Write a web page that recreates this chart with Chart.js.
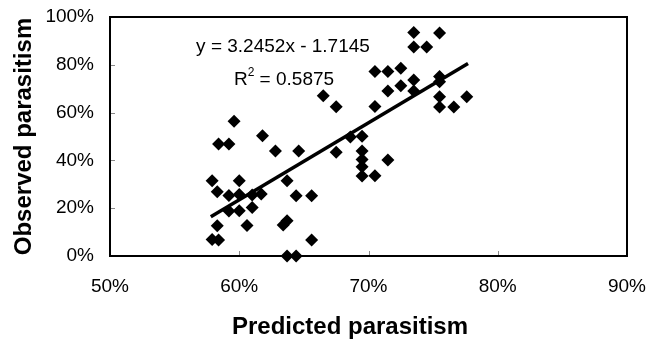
<!DOCTYPE html>
<html>
<head>
<meta charset="utf-8">
<script src="https://cdn.jsdelivr.net/npm/chart.js@4/dist/chart.umd.min.js"></script>
<style>
  html, body { margin: 0; padding: 0; background: #fff; }
  #wrap { width: 647px; height: 342px; position: relative; }
</style>
</head>
<body>
<div id="wrap"><canvas id="chart"></canvas></div>
<script>
// predicted vs observed parasitism (%)
const predicted = [73.5, 75.5, 73.5, 74.5, 70.5, 71.5, 72.5, 71.5, 72.5, 73.5,
  73.5, 75.5, 75.5, 75.5, 75.5, 76.6, 77.6, 70.5, 66.5, 67.5,
  59.6, 58.4, 59.2, 61.8, 62.8, 64.6, 67.5, 68.6, 69.5, 69.5,
  69.5, 69.5, 69.5, 70.5, 71.5, 57.9, 60.0, 63.7, 58.3, 59.2,
  60.0, 61.0, 61.7, 64.4, 65.6, 59.2, 60.0, 61.0, 58.3, 60.6,
  63.7, 63.4, 57.9, 58.4, 65.6, 63.7, 64.4];
const observed = [93.5, 93.3, 87.5, 87.5, 77.2, 77.2, 78.6, 69.0, 71.2, 73.6,
  69.0, 75.1, 72.9, 66.6, 62.3, 62.3, 66.6, 62.6, 67.0, 62.5,
  56.4, 46.9, 46.9, 50.3, 43.9, 43.9, 43.4, 49.8, 50.1, 43.9,
  40.4, 37.3, 33.5, 33.6, 40.2, 31.5, 31.5, 31.5, 26.9, 25.3,
  25.7, 25.5, 25.9, 25.2, 25.2, 18.8, 18.9, 20.3, 12.7, 12.8,
  14.8, 13.0, 6.9, 6.7, 6.7, 0, 0];

// linear trend line ends, as drawn
const trendX = [57.8, 77.7];
const trendY = [16.4, 80.5];

const xTicks = [50, 60, 70, 80, 90];
const yTicks = [0, 20, 40, 60, 80, 100];

const eqText = "y = 3.2452x - 1.7145";
const r2Value = "0.5875";
const xTitle = "Predicted parasitism";
const yTitle = "Observed parasitism";

const FONT = '"Liberation Sans", Arial, Helvetica, sans-serif';

const points = predicted.map((x, i) => ({ x, y: observed[i] }));
const trend = trendX.map((x, i) => ({ x, y: trendY[i] }));

const frame = {
  id: "frame",
  beforeDatasetsDraw(chart) {
    const { ctx, chartArea: a, scales } = chart;
    ctx.save();
    // small inward tick marks
    ctx.strokeStyle = "#888";
    ctx.lineWidth = 1;
    ctx.beginPath();
    xTicks.slice(1, -1).forEach(v => {
      const px = Math.round(scales.x.getPixelForValue(v)) + 0.5;
      ctx.moveTo(px, a.bottom); ctx.lineTo(px, a.bottom - 5);
    });
    yTicks.slice(1, -1).forEach(v => {
      const py = Math.round(scales.y.getPixelForValue(v)) + 0.5;
      ctx.moveTo(a.left, py); ctx.lineTo(a.left + 5, py);
    });
    ctx.stroke();
    ctx.strokeStyle = "#000";
    ctx.lineWidth = 2;
    ctx.strokeRect(a.left, a.top, a.right - a.left, a.bottom - a.top);
    ctx.restore();
  },
  afterDraw(chart) {
    const { ctx, chartArea: a } = chart;
    ctx.save();
    ctx.fillStyle = "#000";
    ctx.textBaseline = "middle";

    // equation + R²
    ctx.font = `19px ${FONT}`;
    ctx.textAlign = "center";
    ctx.fillText(eqText, 283, 47);
    const rest = " = " + r2Value;
    const wR = ctx.measureText("R").width;
    const wRest = ctx.measureText(rest).width;
    ctx.font = `12px ${FONT}`;
    const w2 = ctx.measureText("2").width;
    let sx = 284 - (wR + w2 + wRest) / 2;
    ctx.textAlign = "left";
    ctx.font = `19px ${FONT}`;
    ctx.fillText("R", sx, 80);
    ctx.font = `12px ${FONT}`;
    ctx.fillText("2", sx + wR, 73);
    ctx.font = `19px ${FONT}`;
    ctx.fillText(rest, sx + wR + w2, 80);

    // axis titles
    ctx.font = `bold 24px ${FONT}`;
    ctx.textAlign = "center";
    ctx.fillText(xTitle, 350, 327);
    ctx.translate(24, (a.top + a.bottom) / 2);
    ctx.rotate(-Math.PI / 2);
    ctx.fillText(yTitle, 0, 0);
    ctx.restore();
  }
};

new Chart(document.getElementById("chart"), {
  type: "scatter",
  data: {
    datasets: [
      {
        label: "trend",
        type: "line",
        data: trend,
        borderColor: "#000",
        borderWidth: 3.5,
        pointRadius: 0,
        fill: false,
        order: 2
      },
      {
        label: "sites",
        data: points,
        pointStyle: "rectRot",
        pointRadius: 6.5,
        pointHoverRadius: 6.5,
        backgroundColor: "#000",
        borderColor: "#000",
        borderWidth: 0,
        clip: false,
        order: 1
      }
    ]
  },
  options: {
    responsive: true,
    maintainAspectRatio: false,
    animation: false,
    events: [],
    layout: { padding: { top: 17, right: 20, left: 0, bottom: 0 } },
    plugins: { legend: { display: false }, tooltip: { enabled: false } },
    scales: {
      x: {
        type: "linear",
        min: 50, max: 90,
        afterBuildTicks: s => { s.ticks = xTicks.map(v => ({ value: v })); },
        afterFit: s => { s.height = 86; s.paddingLeft = 0; s.paddingRight = 0; },
        grid: { display: false, drawTicks: false },
        border: { display: false },
        ticks: {
          padding: 19,
          color: "#000",
          font: { family: FONT, size: 19 },
          callback: v => v + "%"
        }
      },
      y: {
        type: "linear",
        min: 0, max: 100,
        afterBuildTicks: s => { s.ticks = yTicks.map(v => ({ value: v })); },
        afterFit: s => { s.width = 110; s.paddingTop = 0; s.paddingBottom = 0; },
        grid: { display: false, drawTicks: false },
        border: { display: false },
        ticks: {
          padding: 16,
          color: "#000",
          font: { family: FONT, size: 19 },
          callback: v => v + "%"
        }
      }
    }
  },
  plugins: [frame]
});
</script>
</body>
</html>
